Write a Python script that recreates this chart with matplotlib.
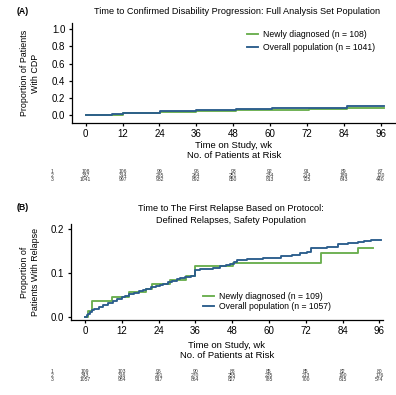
import matplotlib
matplotlib.use("Agg")
import matplotlib.pyplot as plt
from matplotlib.transforms import blended_transform_factory
from matplotlib.lines import Line2D

plt.rcParams['font.family'] = ['Liberation Sans', 'DejaVu Sans']

GREEN = '#6aae4f'
BLUE = '#2b5d8c'

# ---- Panel A data ----
a_blue_t = [0, 8.5, 12.3, 24.3, 36, 49, 60.5, 72.6, 85, 97]
a_blue_v = [0, 0.01, 0.023, 0.045, 0.061, 0.069, 0.08, 0.087, 0.1, 0.1]
a_green_t = [0, 12.3, 24.3, 36, 49, 72.6, 85, 97]
a_green_v = [0, 0.018, 0.035, 0.052, 0.056, 0.065, 0.076, 0.076]
a_labels = ['Newly diagnosed (n = 108)', 'Overall population (n = 1041)']
a_risk = [[108, 106, 99, 96, 93, 92, 91, 89, 67],
          [337, 314, 285, 264, 251, 234, 214, 189, 120],
          [1041, 997, 932, 892, 850, 813, 725, 643, 440]]

# ---- Panel B data ----
b_blue_t = [0, 0.5, 1, 1.5, 2.2, 3, 4.6, 6, 7.5, 9, 10.5, 12, 13, 14.5, 16, 17.5, 19, 20,
            21.5, 23, 24.5, 25.4, 27, 28.5, 30, 30.9, 32.5, 34.7, 36, 37.5, 39, 41.9, 44,
            46, 47.3, 48.5, 49.5, 53, 56, 58, 61.5, 64, 67.6, 70, 72.5, 73.6, 76, 79, 82.5,
            85.8, 89, 91, 93.4, 96.6]
b_blue_v = [0, .003, .007, .01, .015, .018, .023, .027, .031, .037, .04, .044, .047, .052,
            .055, .058, .061, .064, .067, .07, .073, .075, .079, .082, .086, .089, .091, .094,
            .107, .109, .11, .112, .115, .118, .12, .125, .129, .131, .132, .134, .135, .138,
            .142, .145, .148, .156, .157, .159, .165, .168, .17, .172, .175, .175]
b_green_t = [0, 1.1, 2.2, 8.8, 14.2, 20, 21.9, 27.8, 32.9, 35.8, 48.4, 77.1, 89, 93.9]
b_green_v = [0, 0.014, 0.037, 0.044, 0.056, 0.064, 0.074, 0.083, 0.092, 0.115, 0.123,
             0.146, 0.156, 0.156]
b_labels = ['Newly diagnosed (n = 109)', 'Overall population (n = 1057)']
b_risk = [[109, 103, 96, 90, 88, 85, 85, 82, 80],
          [343, 316, 291, 270, 255, 235, 213, 190, 176],
          [1057, 984, 917, 864, 827, 785, 700, 615, 574]]

xticks = [0, 12, 24, 36, 48, 60, 72, 84, 96]
row_names = ['1', '2', '3']

W, H = 396, 395
fig = plt.figure(figsize=(W / 100, H / 100), dpi=100)

def fy(py):
    return 1 - py / H

def fx(px):
    return px / W

LW = 1.35

def style_axes(ax):
    for s in ['top', 'right']:
        ax.spines[s].set_visible(False)
    for s in ['left', 'bottom']:
        ax.spines[s].set_linewidth(0.9)
    ax.tick_params(axis='both', labelsize=7, length=2.5, width=0.9, pad=2)
    ax.set_xticks(xticks)

# Panel A
axA = fig.add_axes([fx(71.7), fy(122.7), fx(396) - fx(71.7), fy(23) - fy(122.7)])
axA.step(a_green_t, a_green_v, where='post', color=GREEN, lw=LW)
axA.step(a_blue_t, a_blue_v, where='post', color=BLUE, lw=LW)
axA.set_xlim(-4.56, 101)
axA.set_ylim(-0.09, 1.073)
axA.set_yticks([0, 0.2, 0.4, 0.6, 0.8, 1.0])
axA.set_yticklabels(['0.0', '0.2', '0.4', '0.6', '0.8', '1.0'])
style_axes(axA)

# Panel B
axB = fig.add_axes([fx(70.7), fy(320), fx(383) - fx(70.7), fy(224) - fy(320)])
axB.step(b_green_t, b_green_v, where='post', color=GREEN, lw=LW)
axB.step(b_blue_t, b_blue_v, where='post', color=BLUE, lw=LW)
axB.set_xlim(-4.66, 97.2)
axB.set_ylim(-0.0075, 0.2117)
axB.set_yticks([0, 0.1, 0.2])
axB.set_yticklabels(['0.0', '0.1', '0.2'])
style_axes(axB)

# legends
hA = [Line2D([], [], color=GREEN, lw=LW), Line2D([], [], color=BLUE, lw=LW)]
fig.legend(hA, a_labels, loc='upper left', bbox_to_anchor=(fx(247), fy(30)),
           frameon=False, fontsize=6.2, handlelength=1.3, handletextpad=0.6,
           labelspacing=0.45, borderpad=0, borderaxespad=0)
fig.legend(hA, b_labels, loc='upper left', bbox_to_anchor=(fx(203), fy(292)),
           frameon=False, fontsize=6.2, handlelength=1.25, handletextpad=0.6,
           labelspacing=0.1, borderpad=0, borderaxespad=0)

# titles and panel labels
fig.text(fx(17), fy(12), '(A)', fontsize=6.3, fontweight='bold', va='center', ha='left')
fig.text(fx(236.7), fy(11), 'Time to Confirmed Disability Progression: Full Analysis Set Population',
         fontsize=6.6, ha='center', va='center')
fig.text(fx(17), fy(208), '(B)', fontsize=6.3, fontweight='bold', va='center', ha='left')
fig.text(fx(230.5), fy(214.5), 'Time to The First Relapse Based on Protocol:\nDefined Relapses, Safety Population',
         fontsize=6.6, ha='center', va='center', linespacing=1.45)

# y labels
fig.text(fx(30), fy(73), 'Proportion of Patients\nWith CDP', fontsize=6.4, rotation=90,
         ha='center', va='center', linespacing=1.2)
fig.text(fx(30), fy(272), 'Proportion of\nPatients With Relapse', fontsize=6.4, rotation=90,
         ha='center', va='center', linespacing=1.2)

# x labels and risk tables
def risk_table(ax, y_xlabel, y_title, y_rows, risk):
    cx = (ax.get_position().x0 + ax.get_position().x1) / 2
    fig.text(cx, fy(y_xlabel), 'Time on Study, wk', fontsize=6.8, ha='center', va='center')
    fig.text(cx, fy(y_title), 'No. of Patients at Risk', fontsize=6.8, ha='center', va='center')
    tr = blended_transform_factory(ax.transData, fig.transFigure)
    for name, row, yr in zip(row_names, risk, y_rows):
        fig.text(fx(51.7), fy(yr), name, fontsize=3.6, ha='center', va='center', color='#333333')
        for xv, n in zip(xticks, row):
            fig.text(xv, fy(yr), str(n), fontsize=3.6, ha='center', va='center',
                     transform=tr, color='#333333')

risk_table(axA, 145.7, 155, [171.7, 175.7, 179.5], a_risk)
risk_table(axB, 345.7, 355, [371.7, 375.7, 379.7], b_risk)

fig.savefig('out.png', dpi=100)
